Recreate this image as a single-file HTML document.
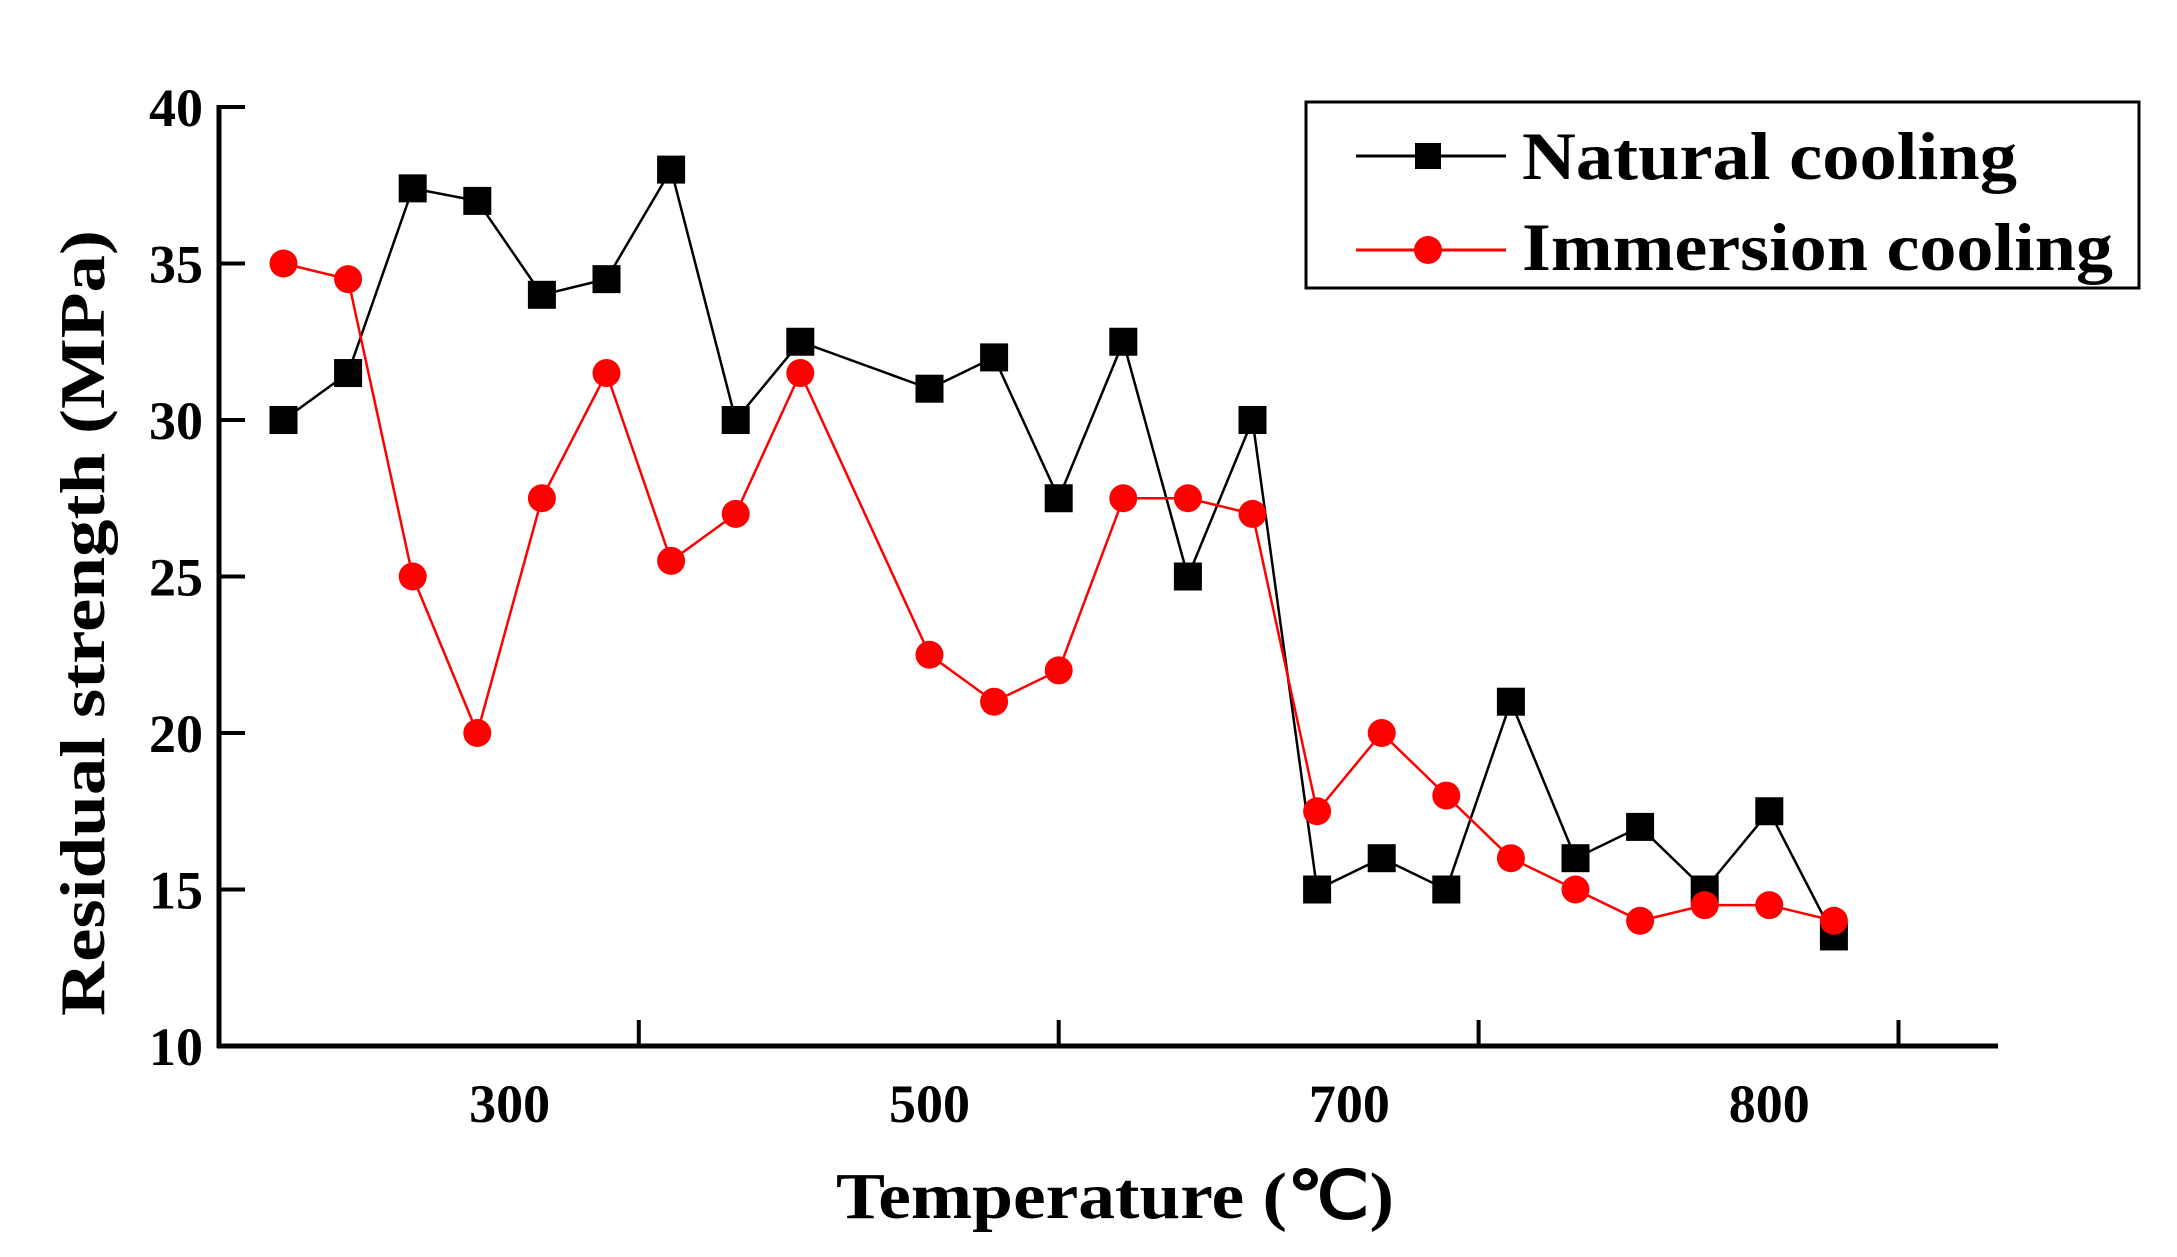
<!DOCTYPE html>
<html><head><meta charset="utf-8"><style>
html,body{margin:0;padding:0;background:#fff;}
svg{display:block;font-family:"Liberation Serif",serif;font-weight:bold;}
</style></head><body>
<svg id="chart" width="2177" height="1257" viewBox="0 0 2177 1257" xmlns="http://www.w3.org/2000/svg">
<g id="axes"></g>
<g id="series"></g>
<g>
<rect x="1306" y="102" width="833" height="186" fill="#fff" stroke="#000" stroke-width="3"/>
<g>
<line x1="1356" y1="156" x2="1506" y2="156" stroke="#000" stroke-width="3"/>
<rect x="1415" y="143" width="26" height="26" fill="#000"/>
<text x="1522" y="179" font-size="68" textLength="495" lengthAdjust="spacingAndGlyphs">Natural cooling</text>
</g>
<g>
<line x1="1356" y1="250" x2="1506" y2="250" stroke="#f00" stroke-width="3"/>
<circle cx="1428" cy="250" r="14" fill="#f00"/>
<text x="1522" y="270" font-size="68" textLength="591" lengthAdjust="spacingAndGlyphs">Immersion cooling</text>
</g>
</g>
<text transform="translate(104,623) rotate(-90)" text-anchor="middle" font-size="64" textLength="786" lengthAdjust="spacingAndGlyphs">Residual strength (MPa)</text>
<text x="1115" y="1218" text-anchor="middle" font-size="66" textLength="558" lengthAdjust="spacingAndGlyphs">Temperature (℃)</text>
</svg>
<script>
const natural = [30,31.5,37.4,37,34,34.5,38,30,32.5,null,31,32,27.5,32.5,25,30,15,16,15,21,16,17,15,17.5,13.5];
const immersion = [35,34.5,25,20,27.5,31.5,25.5,27,31.5,null,22.5,21,22,27.5,27.5,27,17.5,20,18,16,15,14,14.5,14.5,14];
const yTicks = [10,15,20,25,30,35,40];
const xTickLabels = ["300","500","700","800"];
const xTickLabelPos = [3.5,10,16.5,23];
const xTickMarkPos = [5.5,12,18.5,25];

const NS="http://www.w3.org/2000/svg";
const L=219,R=1998,T=107,B=1046;
const X0=283.5,DX=64.6;
function xs(i){return X0+i*DX;}
function ys(v){return B-(v-10)/30*(B-T);}
function mk(tag,attrs,parent){const e=document.createElementNS(NS,tag);for(const k in attrs)e.setAttribute(k,attrs[k]);parent.appendChild(e);return e;}
const axes=document.getElementById('axes');
const series=document.getElementById('series');
let e;
e=mk('line',{x1:L,y1:T-2,x2:L,y2:B+2,stroke:'#000','stroke-width':5},axes);


e=mk('line',{x1:L-2,y1:B,x2:R,y2:B,stroke:'#000','stroke-width':5},axes);


yTicks.forEach(v=>{
  const y=ys(v);
  e=mk('line',{x1:L,y1:y,x2:L+26,y2:y,stroke:'#000','stroke-width':4},axes);
  
  
  e=mk('text',{x:203,y:y+19,'text-anchor':'end','font-size':54},axes);
  e.textContent=v;
  
  
});
xTickMarkPos.forEach(p=>{
  const x=xs(p);
  e=mk('line',{x1:x,y1:B,x2:x,y2:B-26,stroke:'#000','stroke-width':4},axes);
  
  
});
xTickLabels.forEach((t,i)=>{
  e=mk('text',{x:xs(xTickLabelPos[i]),y:1122,'text-anchor':'middle','font-size':54},axes);
  e.textContent=t;
  
  
});
function draw(data,color,shape,name){
  const pts=[];
  data.forEach((v,i)=>{if(v!==null)pts.push(xs(i)+','+ys(v));});
  e=mk('polyline',{points:pts.join(' '),fill:'none',stroke:color,'stroke-width':2.5},series);
  
  
  data.forEach((v,i)=>{
    if(v===null)return;
    if(shape==='sq') e=mk('rect',{x:xs(i)-14,y:ys(v)-14,width:28,height:28,fill:color},series);
    else e=mk('circle',{cx:xs(i),cy:ys(v),r:14,fill:color},series);
    
    
  });
}
draw(natural,'#000','sq','natural-cooling');
draw(immersion,'#f00','ci','immersion-cooling');
</script>
</body></html>
